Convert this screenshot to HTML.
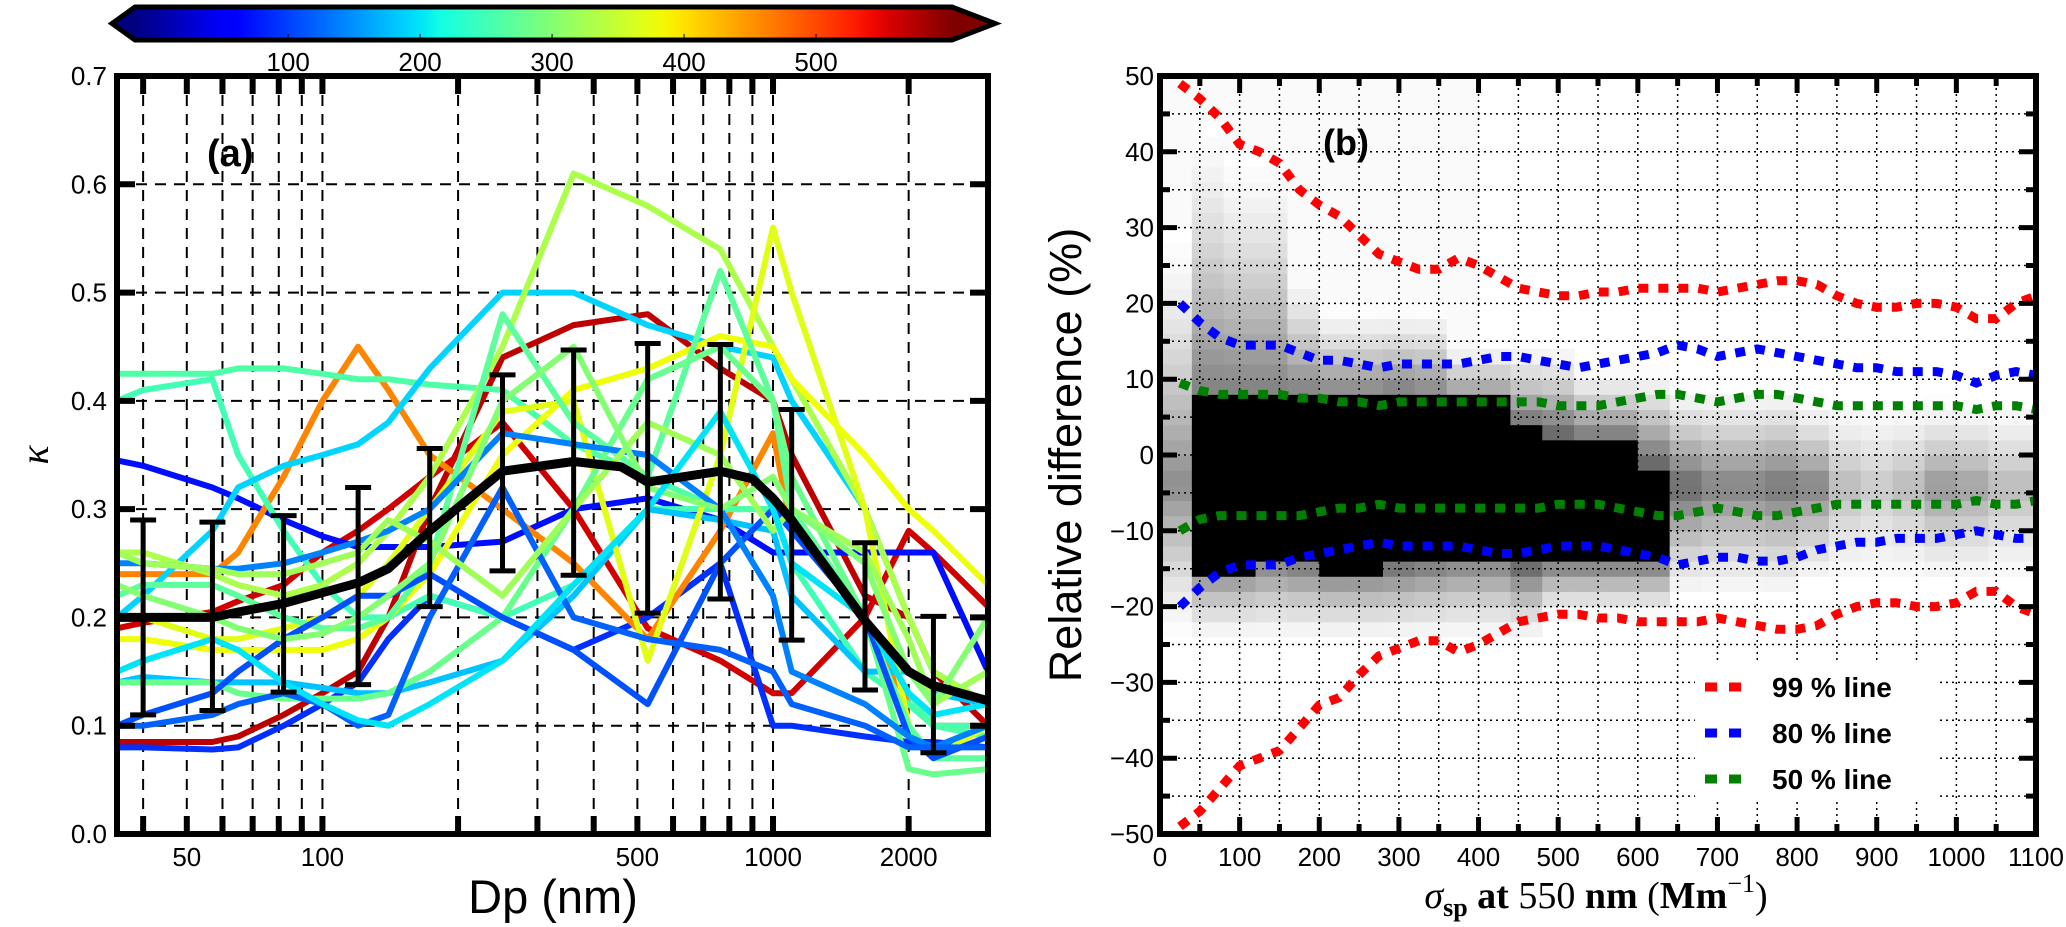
<!DOCTYPE html>
<html><head><meta charset="utf-8"><style>
html,body{margin:0;padding:0;background:#fff;}
svg{display:block;font-family:"Liberation Sans","DejaVu Sans",sans-serif;}
</style></head><body>
<svg id="fig" width="2066" height="927" viewBox="0 0 2066 927" xmlns="http://www.w3.org/2000/svg">
<defs><linearGradient id="jetg" x1="0" x2="1" y1="0" y2="0"></linearGradient>
<clipPath id="clipA"><rect x="117" y="76" width="871" height="758"/></clipPath>
<clipPath id="clipB"><rect x="1160" y="76" width="876" height="758"/></clipPath></defs>
<g id="panelA"></g>
<g id="panelB"></g>
</svg>
<script>
// ---------- Panel A data ----------
const dpNodes = [35,40,57,65,82,100,120,140,173,251,361,527,764,1000,1100,1600,2000,2270,3000];
const lineColorValues = [570,560,90,70,460,250,260,180,190,330,370,380,270,280,110,140,120,320,300,200];
const kappaLine1 = [0.085,0.085,0.085,0.09,0.11,0.13,0.15,0.2,0.3,0.44,0.47,0.48,0.43,0.4,0.35,0.22,0.2,0.15,0.1];
const kappaLine2 = [0.19,0.195,0.205,0.215,0.23,0.26,0.28,0.3,0.33,0.38,0.3,0.19,0.16,0.13,0.13,0.2,0.28,0.26,0.21];
const kappaLine3 = [0.08,0.08,0.078,0.08,0.1,0.12,0.14,0.18,0.22,0.2,0.17,0.2,0.25,0.1,0.1,0.09,0.085,0.085,0.08];
const kappaLine4 = [0.345,0.34,0.32,0.31,0.29,0.275,0.265,0.265,0.265,0.27,0.3,0.31,0.29,0.26,0.26,0.26,0.26,0.26,0.15];
const kappaLine5 = [0.24,0.24,0.24,0.26,0.33,0.4,0.45,0.41,0.35,0.3,0.25,0.18,0.28,0.37,0.28,0.2,0.12,0.1,0.1];
const kappaLine6 = [0.4,0.41,0.42,0.35,0.28,0.23,0.2,0.2,0.22,0.2,0.23,0.3,0.3,0.3,0.25,0.15,0.12,0.1,0.1];
const kappaLine7 = [0.425,0.425,0.425,0.43,0.43,0.425,0.42,0.42,0.415,0.41,0.36,0.33,0.3,0.3,0.25,0.2,0.13,0.1,0.09];
const kappaLine8 = [0.14,0.145,0.14,0.14,0.14,0.135,0.13,0.13,0.14,0.16,0.22,0.3,0.29,0.28,0.22,0.15,0.15,0.13,0.12];
const kappaLine9 = [0.2,0.22,0.28,0.32,0.34,0.35,0.36,0.38,0.43,0.5,0.5,0.47,0.45,0.44,0.4,0.3,0.2,0.15,0.12];
const kappaLine10 = [0.26,0.26,0.24,0.23,0.22,0.23,0.25,0.28,0.33,0.45,0.61,0.58,0.54,0.45,0.42,0.3,0.2,0.15,0.12];
const kappaLine11 = [0.2,0.2,0.18,0.18,0.19,0.2,0.22,0.25,0.3,0.39,0.4,0.16,0.35,0.56,0.5,0.3,0.1,0.07,0.1];
const kappaLine12 = [0.18,0.18,0.17,0.17,0.17,0.17,0.18,0.2,0.24,0.35,0.41,0.43,0.46,0.45,0.42,0.35,0.3,0.28,0.23];
const kappaLine13 = [0.22,0.23,0.23,0.22,0.2,0.19,0.19,0.2,0.25,0.48,0.38,0.33,0.52,0.4,0.3,0.2,0.1,0.07,0.07];
const kappaLine14 = [0.14,0.14,0.14,0.13,0.125,0.125,0.125,0.13,0.15,0.2,0.3,0.42,0.45,0.4,0.33,0.2,0.06,0.055,0.06];
const kappaLine15 = [0.1,0.11,0.13,0.15,0.18,0.2,0.22,0.22,0.24,0.2,0.17,0.12,0.25,0.3,0.28,0.2,0.09,0.07,0.09];
const kappaLine16 = [0.25,0.25,0.245,0.245,0.25,0.26,0.27,0.28,0.3,0.37,0.36,0.35,0.3,0.22,0.15,0.12,0.09,0.08,0.1];
const kappaLine17 = [0.1,0.1,0.11,0.12,0.13,0.12,0.1,0.11,0.2,0.32,0.2,0.18,0.17,0.15,0.12,0.1,0.08,0.08,0.08];
const kappaLine18 = [0.26,0.25,0.245,0.24,0.24,0.25,0.26,0.29,0.27,0.22,0.3,0.38,0.35,0.28,0.3,0.26,0.18,0.12,0.15];
const kappaLine19 = [0.23,0.22,0.2,0.19,0.18,0.185,0.2,0.22,0.25,0.4,0.45,0.32,0.3,0.33,0.3,0.25,0.15,0.12,0.2];
const kappaLine20 = [0.15,0.16,0.18,0.17,0.14,0.12,0.105,0.1,0.12,0.16,0.23,0.3,0.39,0.3,0.25,0.2,0.13,0.11,0.12];
const meanDp = [35,57,65,82,120,140,173,251,361,460,527,764,900,1000,1100,1600,2000,2270,3000];
const meanKappa = [0.2,0.2,0.205,0.213,0.232,0.245,0.28,0.335,0.344,0.339,0.325,0.335,0.328,0.31,0.29,0.197,0.15,0.137,0.123];
const errDp = [40,57,82,120,173,251,361,527,764,1100,1600,2270];
const errLow = [0.11,0.114,0.131,0.138,0.21,0.243,0.239,0.204,0.217,0.179,0.133,0.075];
const errHigh = [0.29,0.288,0.294,0.32,0.356,0.424,0.447,0.453,0.452,0.392,0.269,0.201];
const kappaTicks = [0,0.1,0.2,0.3,0.4,0.5,0.6,0.7];
const kappaTickLabels = ["0.0","0.1","0.2","0.3","0.4","0.5","0.6","0.7"];
const dpGrid = [40,50,60,70,80,90,100,200,300,400,500,600,700,800,900,1000,2000];
const dpTickValues = [50,100,500,1000,2000];
const dpTickLabels = ["50","100","500","1000","2000"];
const cbarTickValues = [100,200,300,400,500];
const cbarTickLabels = ["100","200","300","400","500"];

// ---------- Panel B data ----------
const sigmaCurve = [25,50,75,100,125,150,175,200,225,250,275,300,325,350,375,400,425,450,475,500,525,550,575,600,625,650,675,700,725,750,775,800,825,850,875,900,925,950,975,1000,1025,1050,1075,1100];
const red99Upper = [49,47,44.5,41,40,38.5,35,33,31.5,29,26.5,25.5,24.5,24.5,26,25,23.5,22,21.5,21,21,21.5,21.5,22,22,22,22,21.5,22,22.5,23,23,22.5,21,20,19.5,19.5,20,20,19.5,18,18,20,21];
const red99Lower = [-49,-47,-44,-41,-40,-39,-36,-33,-32,-29,-26.5,-25.5,-24.5,-24.5,-26,-25,-23.5,-22,-21.5,-21,-21,-21.5,-21.5,-22,-22,-22,-22,-21.5,-22,-22.5,-23,-23,-22.5,-21,-20,-19.5,-19.5,-20,-20,-19.5,-18,-18,-20,-21];
const blue80Upper = [20,17.5,15.5,14.5,14.5,14.5,13.5,12.5,12.5,12,11.5,12,12,12,12,12.5,13,13,12.5,12,11.5,12,12.5,13,13.5,14.5,14,13,13.5,14,13.5,13,12.5,12,11.5,11.5,11,11,11,10.5,9.5,10.5,11,10.5];
const blue80Lower = [-20,-17.5,-15.5,-14.5,-14.5,-14.5,-13.5,-13,-12.5,-12,-11.5,-12,-12,-12,-12,-12.5,-13,-13,-12.5,-12,-12,-12,-12.5,-13,-13.5,-14.5,-14,-13.5,-13.5,-14,-14,-13.5,-12.5,-12,-11.5,-11.5,-11,-11,-11,-10.5,-10,-10.5,-11,-11];
const green50Upper = [9.5,8.5,8,8,8,8,7.5,7.5,7,7,6.5,7,7,7,7,7,7,7,7,6.5,6.5,6.5,7,7.5,8,8,7.5,7,7.5,8,8,7.5,7,6.5,6.5,6.5,6.5,6.5,6.5,6.5,6,6.5,6.5,6];
const green50Lower = [-10,-8.5,-8,-8,-8,-8,-8,-7.5,-7,-7,-6.5,-7,-7,-7,-7,-7,-7,-7,-7,-6.5,-6.5,-6.5,-7,-7.5,-8,-8,-7.5,-7,-7.5,-8,-8,-7.5,-7,-6.5,-6.5,-6.5,-6.5,-6.5,-6.5,-6.5,-6,-6.5,-6.5,-6];
const binStart = [0,40,80,120,160,200,240,280,320,360,400,440,480,520,560,600,640,680,720,760,800,840,880,920,960,1000,1040,1080];
const coreTop = [-4,8,8,8,7,7,7,7,7,7,7,3,2,1,1,-2,-4,-4,-4,-4,-4,-4,-4,-4,-4,-4,-4,-4];
const coreBot = [-4,-15,-15,-14,-14,-15,-15,-14,-14,-14,-14,-14,-13,-13,-13,-13,-4,-4,-4,-4,-4,-4,-4,-4,-4,-4,-4,-4];
const haloTop = [30,45,40,40,25,20,20,20,20,15,15,15,15,12,12,12,10,10,10,10,8,8,8,8,8,8,8,8];
const haloBot = [-25,-25,-25,-25,-25,-25,-25,-25,-25,-25,-25,-25,-22,-22,-22,-22,-20,-20,-20,-20,-18,-18,-18,-18,-18,-18,-18,-18];
const haloDark = [0.45,0.5,0.5,0.5,0.55,0.55,0.55,0.6,0.55,0.5,0.5,0.65,0.65,0.65,0.65,0.65,0.6,0.5,0.5,0.55,0.5,0.28,0.22,0.28,0.42,0.38,0.28,0.28];
const sigmaTickValues = [0,100,200,300,400,500,600,700,800,900,1000,1100];
const diffTickValues = [50,40,30,20,10,0,-10,-20,-30,-40,-50];
const legendLabels = ["99 % line","80 % line","50 % line"];

// ---------- helpers ----------
const NS = "http://www.w3.org/2000/svg";
function mk(tag, attrs, parent, txt){
  const e = document.createElementNS(NS, tag);
  for (const k in attrs) e.setAttribute(k, attrs[k]);
  if (txt !== undefined) e.textContent = txt;
  parent.appendChild(e); return e;
}
function clamp(v){return Math.max(0,Math.min(1,v));}
function jet(t){
  t = clamp(t);
  const lerp=(pts)=>{for(let i=0;i<pts.length-1;i++){const[a,va]=pts[i],[b,vb]=pts[i+1];if(t>=a&&t<=b)return va+(vb-va)*(t-a)/(b-a);}return pts[pts.length-1][1];};
  const r=lerp([[0,0],[0.35,0],[0.66,1],[0.89,1],[1,0.5]]);
  const g=lerp([[0,0],[0.125,0],[0.375,1],[0.64,1],[0.91,0],[1,0]]);
  const b=lerp([[0,0.5],[0.11,1],[0.34,1],[0.65,0],[1,0]]);
  return `rgb(${Math.round(r*255)},${Math.round(g*255)},${Math.round(b*255)})`;
}
const CB_MIN=-16, CB_MAX=603;

// ---------- Panel A ----------
const A = document.getElementById('panelA');
const AX0=117, AX1=988, AY0=76, AY1=834;
const lmin=Math.log10(35), lmax=Math.log10(3000);
const xA = d => AX0 + (Math.log10(d)-lmin)/(lmax-lmin)*(AX1-AX0);
const yA = k => AY1 - k/0.7*(AY1-AY0);

const grad = document.getElementById('jetg');
for (let i=0;i<=40;i++){ mk('stop',{offset:(i/40).toFixed(3),'stop-color':jet(i/40)},grad); }
const cbX0=135, cbX1=952, cbY0=7, cbY1=40;
const cbx = v => cbX0 + (v-CB_MIN)/(CB_MAX-CB_MIN)*(cbX1-cbX0);
const cb = mk('g',{},A);


mk('polygon',{points:`${cbX0},${cbY0} ${cbX0},${cbY1} 112,${(cbY0+cbY1)/2}`,fill:jet(0)},cb);
mk('polygon',{points:`${cbX1},${cbY0} ${cbX1},${cbY1} 995,${(cbY0+cbY1)/2}`,fill:jet(1)},cb);
mk('rect',{x:cbX0,y:cbY0,width:cbX1-cbX0,height:cbY1-cbY0,fill:'url(#jetg)'},cb);
mk('polygon',{points:`112,${(cbY0+cbY1)/2} ${cbX0},${cbY0} ${cbX1},${cbY0} 995,${(cbY0+cbY1)/2} ${cbX1},${cbY1} ${cbX0},${cbY1}`,fill:'none',stroke:'#000','stroke-width':5,'stroke-linejoin':'miter'},cb);
cbarTickValues.forEach((v,i)=>{
  mk('line',{x1:cbx(v),x2:cbx(v),y1:cbY1-6,y2:cbY1-2,stroke:'#000','stroke-width':1},cb);
  const t=mk('text',{x:cbx(v),y:71,'text-anchor':'middle','font-size':26},cb,cbarTickLabels[i]);
  
  
});

const gA = mk('g',{stroke:'#000','stroke-width':2,'stroke-dasharray':'11 8'},A);


dpGrid.forEach(d=>mk('line',{x1:xA(d),x2:xA(d),y1:AY0,y2:AY1},gA));
kappaTicks.slice(1,7).forEach(k=>mk('line',{x1:AX0,x2:AX1,y1:yA(k),y2:yA(k)},gA));

const allLines=[kappaLine1,kappaLine2,kappaLine3,kappaLine4,kappaLine5,kappaLine6,kappaLine7,kappaLine8,kappaLine9,kappaLine10,kappaLine11,kappaLine12,kappaLine13,kappaLine14,kappaLine15,kappaLine16,kappaLine17,kappaLine18,kappaLine19,kappaLine20];
const linesG = mk('g',{'clip-path':'url(#clipA)',fill:'none','stroke-width':6,'stroke-linejoin':'round'},A);
allLines.forEach((arr,i)=>{
  const pts = arr.map((k,j)=>`${xA(dpNodes[j]).toFixed(1)},${yA(k).toFixed(1)}`).join(' ');
  const p = mk('polyline',{points:pts,stroke:jet((lineColorValues[i]-CB_MIN)/(CB_MAX-CB_MIN))},linesG);
  
  
});
const mp = mk('polyline',{points:meanKappa.map((k,j)=>`${xA(meanDp[j]).toFixed(1)},${yA(k).toFixed(1)}`).join(' '),fill:'none',stroke:'#000','stroke-width':9,'stroke-linejoin':'round','clip-path':'url(#clipA)'},A);


const eg = mk('g',{stroke:'#000','stroke-width':5},A);


errDp.forEach((d,i)=>{
  const x=xA(d);
  mk('line',{x1:x,x2:x,y1:yA(errLow[i]),y2:yA(errHigh[i])},eg);
  mk('line',{x1:x-13,x2:x+13,y1:yA(errLow[i]),y2:yA(errLow[i])},eg);
  mk('line',{x1:x-13,x2:x+13,y1:yA(errHigh[i]),y2:yA(errHigh[i])},eg);
});
const tA = mk('g',{stroke:'#000','stroke-width':6},A);
dpGrid.forEach(d=>{const x=xA(d);
  mk('line',{x1:x,x2:x,y1:AY0,y2:AY0+18},tA);
  mk('line',{x1:x,x2:x,y1:AY1,y2:AY1-18},tA);});
kappaTicks.forEach(k=>{const y=yA(k);
  mk('line',{x1:AX0,x2:AX0+18,y1:y,y2:y},tA);
  mk('line',{x1:AX1,x2:AX1-18,y1:y,y2:y},tA);});
const fA = mk('rect',{x:AX0,y:AY0,width:AX1-AX0,height:AY1-AY0,fill:'none',stroke:'#000','stroke-width':6},A);


kappaTicks.forEach((k,i)=>{
  const t=mk('text',{x:107,y:yA(k)+9,'text-anchor':'end','font-size':26},A,kappaTickLabels[i]);
  
  
});
dpTickValues.forEach((d,i)=>{
  const t=mk('text',{x:xA(d),y:866,'text-anchor':'middle','font-size':26},A,dpTickLabels[i]);
  
  
});
let t;
t=mk('text',{x:553,y:913,'text-anchor':'middle','font-size':47},A,'Dp (nm)');


t=mk('text',{x:0,y:0,'text-anchor':'middle','font-size':40,'font-style':'italic','font-family':'Liberation Serif, serif',transform:'translate(48,455) rotate(-90)'},A,'κ');


t=mk('text',{x:207,y:166,'font-size':38,'font-weight':'bold'},A,'(a)');



// ---------- Panel B ----------
const B = document.getElementById('panelB');
const BX0=1160, BX1=2036, BY0=76, BY1=834;
const xB = v => BX0 + v/1100*(BX1-BX0);
const yB = v => BY0 + (50-v)/100*(BY1-BY0);
const hm = mk('g',{'clip-path':'url(#clipB)'},B);


binStart.forEach((bx,i)=>{
  for (let yv=-50; yv<50; yv+=2){
    const yc=yv+1; let d;
    if (coreTop[i]>coreBot[i] && yc<=coreTop[i] && yc>=coreBot[i]) d=1;
    else if (yc>coreTop[i]) { const s=(yc-coreTop[i])/(haloTop[i]-coreTop[i]); d = s<1 ? haloDark[i]*Math.pow(1-s,1.5) : (bx<400?0.02:0); }
    else { const s=(coreBot[i]-yc)/(coreBot[i]-haloBot[i]); d = s<1 ? haloDark[i]*Math.pow(1-s,1.5) : 0; }
    if (d<0.01) continue;
    const g=Math.round(255*(1-d));
    const c=mk('rect',{x:xB(bx),y:yB(yv+2),width:xB(bx+40)-xB(bx)+0.5,height:yB(yv)-yB(yv+2)+0.5,fill:`rgb(${g},${g},${g})`},hm);
    
    
  }
});
const gB = mk('g',{stroke:'#000','stroke-width':1.5,'stroke-dasharray':'2 4'},B);


for (let v=50; v<1100; v+=50) mk('line',{x1:xB(v),x2:xB(v),y1:BY0,y2:BY1},gB);
for (let v=-45; v<50; v+=5) mk('line',{x1:BX0,x2:BX1,y1:yB(v),y2:yB(v)},gB);
function dotted(arr,color,name){
  const p=mk('polyline',{points:arr.map((v,j)=>`${xB(sigmaCurve[j]).toFixed(1)},${yB(v).toFixed(1)}`).join(' '),fill:'none',stroke:color,'stroke-width':9,'stroke-dasharray':'10 10','clip-path':'url(#clipB)'},B);
  
  
}
dotted(red99Upper,'#ff0000','red-99-upper-line');
dotted(red99Lower,'#ff0000','red-99-lower-line');
dotted(blue80Upper,'#0000ff','blue-80-upper-line');
dotted(blue80Lower,'#0000ff','blue-80-lower-line');
dotted(green50Upper,'#008000','green-50-upper-line');
dotted(green50Lower,'#008000','green-50-lower-line');
const lg = mk('g',{},B);


mk('rect',{x:1695,y:662,width:245,height:140,fill:'#fff'},lg);
const legCols=['#ff0000','#0000ff','#008000'];
legendLabels.forEach((lab,i)=>{
  const y=687+i*46;
  const e=mk('g',{},lg);
  
  
  mk('line',{x1:1705,x2:1748,y1:y,y2:y,stroke:legCols[i],'stroke-width':9,'stroke-dasharray':'12 12'},e);
  mk('text',{x:1772,y:y+10,'font-size':28,'font-weight':'bold'},e,lab);
});
const tB = mk('g',{stroke:'#000','stroke-width':5},B);
for (let v=50; v<1100; v+=50){ const L=(v%100===0)?17:10; const x=xB(v);
  mk('line',{x1:x,x2:x,y1:BY0,y2:BY0+L},tB); mk('line',{x1:x,x2:x,y1:BY1,y2:BY1-L},tB);}
for (let v=-45; v<50; v+=5){ const L=(v%10===0)?17:10; const y=yB(v);
  mk('line',{x1:BX0,x2:BX0+L,y1:y,y2:y},tB); mk('line',{x1:BX1,x2:BX1-L,y1:y,y2:y},tB);}
const fB=mk('rect',{x:BX0,y:BY0,width:BX1-BX0,height:BY1-BY0,fill:'none',stroke:'#000','stroke-width':6},B);


diffTickValues.forEach(v=>{
  const tt=mk('text',{x:1154,y:yB(v)+9,'text-anchor':'end','font-size':26},B,(v<0?'\u2212':'')+Math.abs(v));
  
  
});
sigmaTickValues.forEach(v=>{
  const tt=mk('text',{x:xB(v),y:866,'text-anchor':'middle','font-size':26},B,String(v));
  
  
});
t=mk('text',{x:0,y:0,'text-anchor':'middle','font-size':45,transform:'translate(1081,455) rotate(-90)'},B,'Relative difference (%)');


t=mk('text',{x:1323,y:155,'font-size':36,'font-weight':'bold'},B,'(b)');


const xl=mk('text',{x:1596,y:908,'text-anchor':'middle','font-size':38,'font-family':'Liberation Serif, serif'},B);


mk('tspan',{'font-style':'italic'},xl,'σ');
mk('tspan',{'font-size':26,dy:8,'font-weight':'bold'},xl,'sp');
mk('tspan',{dy:-8,'font-weight':'bold'},xl,' at ');
mk('tspan',{},xl,'550 ');
mk('tspan',{'font-weight':'bold'},xl,'nm');
mk('tspan',{},xl,' (');
mk('tspan',{'font-weight':'bold'},xl,'Mm');
mk('tspan',{'font-size':26,dy:-16},xl,'−1');
mk('tspan',{dy:16},xl,')');
</script>
</body></html>
